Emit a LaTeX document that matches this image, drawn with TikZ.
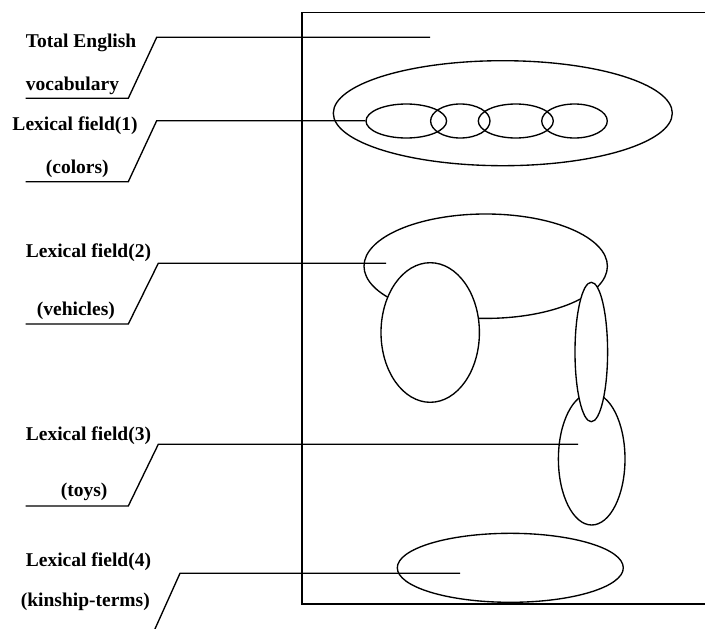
\documentclass[tikz,border=0pt]{standalone}
\usepackage{fontspec}
\setmainfont{Liberation Serif}
\begin{document}
\begin{tikzpicture}[x=1pt,y=-1pt,
  ln/.style={line width=1.35pt},
  lbl/.style={inner sep=0pt,anchor=base west,font=\bfseries\fontsize{19.5}{23}\selectfont},
  ell/.style={ln,draw,fill=white}]
\useasboundingbox (0,0) rectangle (705,629);
% frame
\draw[ln] (705,12.7) -- (302,12.7) -- (302,604) -- (705,604);
% colours
\draw[ln] (502.8,113.2) ellipse [x radius=169.5,y radius=52.5];
\draw[ln] (406.3,121) ellipse [x radius=40.3,y radius=17];
\draw[ln] (460.3,121) ellipse [x radius=29.7,y radius=17];
\draw[ln] (515.8,121) ellipse [x radius=37.5,y radius=17];
\draw[ln] (574.5,121) ellipse [x radius=32.8,y radius=17];
% vehicles
\draw[ln] (485.7,266.2) ellipse [x radius=121.7,y radius=52.2];
\path[ell] (430.2,332.5) ellipse [x radius=49.2,y radius=69.8];
% toys
\draw[ln] (591.7,459) ellipse [x radius=33.3,y radius=66];
\path[ell] (591.3,352) ellipse [x radius=16.3,y radius=69.7];
% kinship
\draw[ln] (510.3,567.8) ellipse [x radius=113,y radius=34.5];
% labels
\node[lbl] (t1) at (25.7,47.7) {Total English};
\node[lbl] (t2) at (25.7,90) {vocabulary};
\node[lbl] (l1) at (12.3,130.7) {Lexical field(1)};
\node[lbl] (c1) at (45.7,173.3) {(colors)};
\node[lbl] (l2) at (25.7,257.3) {Lexical field(2)};
\node[lbl] (c2) at (36.7,315) {(vehicles)};
\node[lbl] (l3) at (25.7,440) {Lexical field(3)};
\node[lbl] (c3) at (60.7,496.7) {(toys)};
\node[lbl] (l4) at (25.7,566.7) {Lexical field(4)};
\node[lbl] (c4) at (20.7,606.7) {(kinship-terms)};
% leader coordinates
\coordinate (a0) at (25.7,98.3);  \coordinate (a1) at (128.3,98.3);
\coordinate (a2) at (156.7,37.3); \coordinate (a3) at (430,37.3);
\coordinate (b0) at (25.7,181.7); \coordinate (b1) at (128.3,181.7);
\coordinate (b2) at (156.7,120.7);\coordinate (b3) at (365,120.7);
\coordinate (v0) at (25.7,324);   \coordinate (v1) at (128.3,324);
\coordinate (v2) at (158.3,263.3);\coordinate (v3) at (386,263.3);
\coordinate (y0) at (25.7,506);   \coordinate (y1) at (128.3,506);
\coordinate (y2) at (158.3,444.3);\coordinate (y3) at (578,444.3);
\coordinate (k1) at (150,640);
\coordinate (k2) at (180,573.3);  \coordinate (k3) at (460,573.3);
\draw[ln] (a0) -- (a1) -- (a2) -- (a3);
\draw[ln] (b0) -- (b1) -- (b2) -- (b3);
\draw[ln] (v0) -- (v1) -- (v2) -- (v3);
\draw[ln] (y0) -- (y1) -- (y2) -- (y3);
\draw[ln] (k1) -- (k2) -- (k3);
\end{tikzpicture}
\end{document}
